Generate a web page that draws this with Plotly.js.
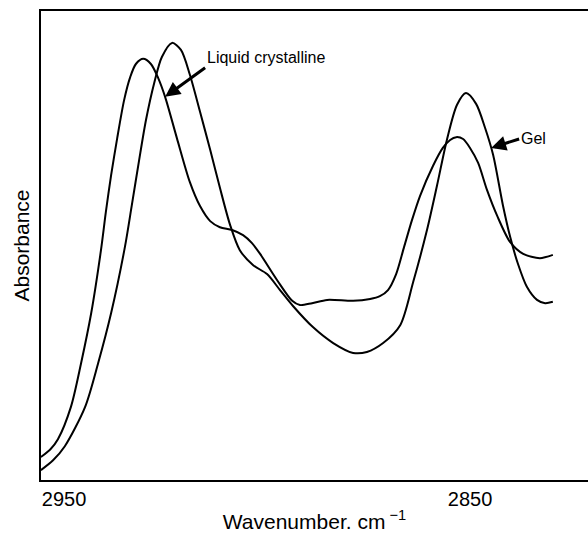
<!DOCTYPE html>
<html>
<head>
<meta charset="utf-8">
<script src="https://cdn.plot.ly/plotly-3.0.1.min.js"></script>
<style>html,body{margin:0;padding:0;background:#fff;}#chart{width:588px;height:533px;}</style>
</head>
<body>
<div id="chart"></div>
<script>
// Liquid crystalline spectrum (wavenumber, cm^-1 ; absorbance, arbitrary units)
var wnLC = [2955.7, 2953.4, 2951.5, 2948.3, 2945.8, 2943.3, 2940.9, 2939.7, 2938.4, 2936.9, 2935.2, 2933.7, 2932.3, 2930.5, 2928.6, 2926.8, 2925.1, 2922.2, 2919.0, 2916.5, 2914.0, 2911.6, 2908.6, 2905.9, 2903.7, 2901.7, 2897.5, 2893.8, 2891.9, 2888.9, 2885.2, 2878.8, 2874.6, 2872.2, 2870.2, 2868.2, 2866.3, 2864.3, 2862.3, 2859.1, 2856.7, 2854.9, 2853.4, 2851.7, 2850.0, 2848.0, 2845.8, 2843.3, 2840.1, 2836.9, 2832.8, 2829.6];
var absLC = [0.049, 0.065, 0.087, 0.156, 0.249, 0.356, 0.490, 0.571, 0.650, 0.729, 0.810, 0.859, 0.887, 0.898, 0.887, 0.857, 0.817, 0.729, 0.635, 0.584, 0.552, 0.539, 0.533, 0.522, 0.505, 0.482, 0.426, 0.382, 0.373, 0.377, 0.384, 0.382, 0.386, 0.392, 0.405, 0.439, 0.495, 0.554, 0.606, 0.670, 0.708, 0.725, 0.731, 0.727, 0.708, 0.676, 0.618, 0.563, 0.507, 0.482, 0.473, 0.480];

// Gel spectrum
var wnGel = [2955.7, 2952.7, 2949.8, 2944.8, 2941.6, 2938.4, 2935.0, 2933.3, 2931.5, 2929.8, 2927.8, 2925.9, 2923.4, 2921.2, 2919.0, 2916.5, 2914.0, 2911.6, 2909.1, 2906.7, 2903.4, 2900.0, 2896.8, 2893.6, 2888.7, 2883.7, 2878.8, 2875.4, 2871.4, 2867.2, 2864.0, 2860.6, 2858.1, 2855.7, 2853.2, 2851.0, 2848.5, 2846.3, 2844.3, 2841.9, 2840.1, 2838.2, 2836.0, 2833.5, 2831.5, 2829.6];
var absGel = [0.021, 0.042, 0.072, 0.156, 0.249, 0.356, 0.497, 0.586, 0.682, 0.768, 0.846, 0.902, 0.932, 0.917, 0.864, 0.785, 0.704, 0.623, 0.544, 0.490, 0.458, 0.439, 0.405, 0.371, 0.326, 0.292, 0.271, 0.273, 0.292, 0.330, 0.422, 0.533, 0.629, 0.725, 0.800, 0.825, 0.802, 0.751, 0.693, 0.586, 0.518, 0.461, 0.412, 0.384, 0.377, 0.380];

var tickVals = [2950, 2850];
var tickText = ['2950', '2850'];

var FONT = 'Liberation Sans, Arial, Helvetica, sans-serif';

var traces = [
  {x: wnLC, y: absLC, mode: 'lines', name: 'Liquid crystalline',
   line: {color: '#000', width: 2, shape: 'spline', smoothing: 0.8}, hoverinfo: 'skip'},
  {x: wnGel, y: absGel, mode: 'lines', name: 'Gel',
   line: {color: '#000', width: 2, shape: 'spline', smoothing: 0.8}, hoverinfo: 'skip'}
];

var layout = {
  width: 588, height: 533,
  margin: {l: 41, r: 0, t: 11, b: 53},
  paper_bgcolor: '#fff', plot_bgcolor: '#fff',
  showlegend: false,
  font: {family: FONT, color: '#000'},
  xaxis: {
    range: [2955.67, 2820.94],
    tickvals: tickVals, ticktext: tickText,
    ticks: '', showgrid: false, zeroline: false,
    showline: true, linecolor: '#000', linewidth: 2, mirror: true,
    tickfont: {family: FONT, size: 20, color: '#000'},
    title: {text: 'Wavenumber. cm<sup> \u22121</sup>', font: {family: FONT, size: 21, color: '#000'}, standoff: 9},
    automargin: false, fixedrange: true
  },
  yaxis: {
    range: [0, 1],
    showticklabels: false, ticks: '', showgrid: false, zeroline: false,
    showline: true, linecolor: '#000', linewidth: 2, mirror: false,
    title: {text: 'Absorbance', font: {family: FONT, size: 21, color: '#000'}, standoff: 4},
    automargin: false, fixedrange: true
  },
  annotations: [
    {x: 2925.1, y: 0.817, xref: 'x', yref: 'y', text: 'Liquid crystalline', showarrow: true,
     ax: 40, ay: -29, xanchor: 'left', yanchor: 'bottom',
     arrowhead: 2, arrowsize: 1, arrowwidth: 3, arrowcolor: '#000', standoff: 0,
     font: {family: FONT, size: 16, color: '#000'}},
    {x: 2844.8, y: 0.708, xref: 'x', yref: 'y', text: 'Gel', showarrow: true,
     ax: 28, ay: -9, xanchor: 'left', yanchor: 'middle',
     arrowhead: 2, arrowsize: 1, arrowwidth: 3, arrowcolor: '#000', standoff: 0,
     font: {family: FONT, size: 16, color: '#000'}}
  ]
};

Plotly.newPlot('chart', traces, layout, {staticPlot: true, displayModeBar: false});
</script>
</body>
</html>
